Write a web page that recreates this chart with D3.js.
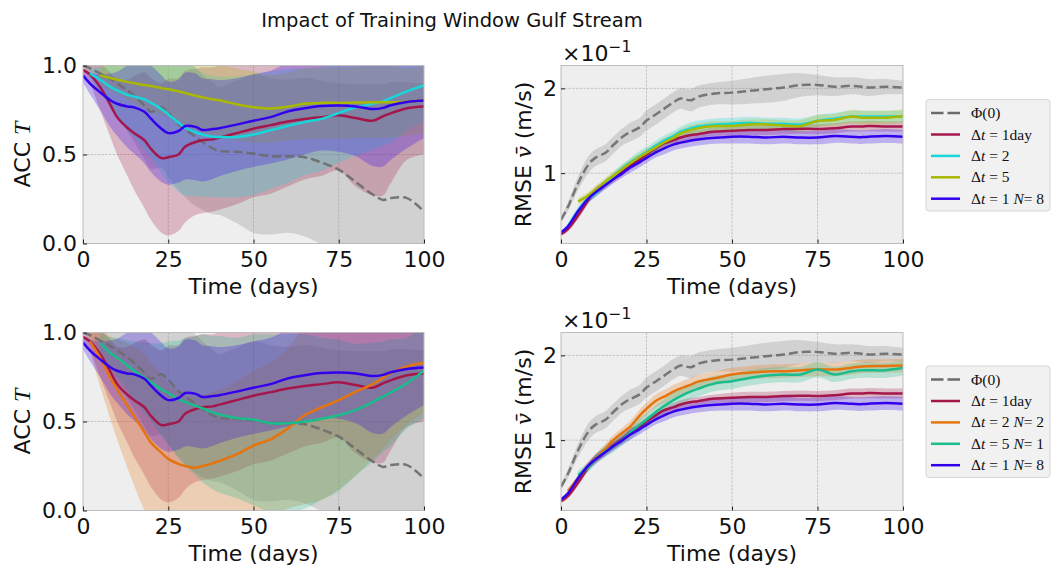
<!DOCTYPE html>
<html>
<head>
<meta charset="utf-8">
<script src="https://cdn.jsdelivr.net/npm/d3@7"></script>
<style>
  body { margin: 0; background: #ffffff; }
  svg { display: block; font-family: "DejaVu Sans", sans-serif; }
</style>
</head>
<body>
<svg id="chart" width="1051" height="569"></svg>
<script>
// ---------------- DATA ----------------
const days = [0,2,5,8,10,13,15,18,20,23,25,28,30,33,35,38,40,45,50,55,60,65,70,75,80,85,88,90,95,100];

// ACC T (means and standard deviations)
const accPhi    = [1.0,0.985,0.955,0.925,0.9,0.86,0.83,0.775,0.74,0.765,0.735,0.67,0.64,0.6,0.57,0.535,0.52,0.515,0.505,0.49,0.49,0.485,0.455,0.415,0.345,0.275,0.245,0.255,0.255,0.18];
const accPhiStd = [0,0.04,0.1,0.15,0.18,0.23,0.26,0.3,0.32,0.34,0.36,0.37,0.38,0.39,0.38,0.37,0.36,0.4,0.445,0.44,0.43,0.445,0.46,0.485,0.55,0.62,0.65,0.65,0.65,0.72];
const accDt1    = [0.975,0.95,0.88,0.78,0.71,0.65,0.62,0.58,0.53,0.48,0.485,0.5,0.545,0.57,0.58,0.585,0.595,0.62,0.645,0.665,0.685,0.7,0.71,0.72,0.705,0.69,0.715,0.73,0.76,0.77];
const accDt1Std = [0.025,0.05,0.13,0.18,0.21,0.27,0.32,0.38,0.4,0.42,0.44,0.43,0.425,0.41,0.41,0.405,0.405,0.4,0.385,0.385,0.365,0.34,0.33,0.31,0.385,0.42,0.445,0.4,0.29,0.27];
const accDt2    = [null,0.955,0.92,0.88,0.86,0.835,0.825,0.81,0.79,0.755,0.725,0.68,0.65,0.625,0.612,0.6,0.598,0.598,0.612,0.636,0.66,0.683,0.7,0.733,0.765,0.785,0.8,0.815,0.855,0.888];
const accDt2Std = [null,0.03,0.07,0.12,0.15,0.2,0.23,0.28,0.31,0.36,0.38,0.39,0.38,0.36,0.35,0.34,0.34,0.34,0.34,0.33,0.32,0.3,0.29,0.28,0.27,0.26,0.25,0.25,0.22,0.2];
const accDt5    = [null,null,0.944,0.93,0.92,0.908,0.9,0.89,0.885,0.873,0.867,0.855,0.845,0.83,0.822,0.81,0.805,0.782,0.766,0.758,0.768,0.785,0.79,0.79,0.792,0.794,0.794,0.794,0.796,0.807];
const accDt5Std = [null,null,0.05,0.07,0.08,0.1,0.11,0.13,0.14,0.15,0.16,0.17,0.18,0.19,0.2,0.2,0.2,0.2,0.2,0.19,0.19,0.2,0.2,0.2,0.2,0.2,0.2,0.2,0.19,0.19];
const accN8     = [0.944,0.9,0.85,0.805,0.785,0.77,0.765,0.74,0.7,0.645,0.62,0.632,0.66,0.655,0.638,0.643,0.648,0.668,0.69,0.71,0.742,0.76,0.772,0.775,0.77,0.755,0.762,0.775,0.795,0.803];
const accN8Std  = [0.04,0.06,0.1,0.15,0.18,0.23,0.26,0.29,0.3,0.3,0.29,0.29,0.3,0.3,0.29,0.28,0.27,0.26,0.26,0.26,0.27,0.26,0.25,0.26,0.28,0.32,0.33,0.31,0.26,0.21];
const accDt2N2    = [null,0.95,0.86,0.745,0.68,0.59,0.53,0.44,0.38,0.325,0.29,0.262,0.25,0.24,0.25,0.265,0.278,0.315,0.365,0.4,0.46,0.535,0.58,0.62,0.668,0.71,0.746,0.77,0.81,0.83];
const accDt2N2Std = [null,0.05,0.16,0.23,0.28,0.35,0.39,0.44,0.45,0.44,0.42,0.41,0.4,0.4,0.4,0.4,0.4,0.41,0.42,0.43,0.45,0.5,0.52,0.5,0.47,0.42,0.4,0.38,0.33,0.28];
const accDt5N1    = [null,null,0.94,0.885,0.86,0.815,0.785,0.745,0.72,0.68,0.66,0.625,0.61,0.588,0.575,0.55,0.54,0.52,0.51,0.49,0.49,0.5,0.516,0.535,0.565,0.61,0.64,0.66,0.715,0.785];
const accDt5N1Std = [null,null,0.06,0.09,0.11,0.14,0.165,0.2,0.22,0.26,0.29,0.33,0.36,0.39,0.415,0.43,0.44,0.45,0.48,0.5,0.5,0.49,0.455,0.425,0.37,0.335,0.31,0.3,0.255,0.265];

// RMSE v (in units of 1e-1 m/s)
const rmsePhi    = [0.45,0.6,0.88,1.1,1.18,1.24,1.32,1.43,1.48,1.54,1.62,1.7,1.755,1.84,1.88,1.86,1.9,1.94,1.95,1.97,1.99,2.01,2.04,2.04,2.02,2.03,2.02,2.01,2.02,2.01];
const rmsePhiStd = [0.03,0.05,0.08,0.1,0.1,0.1,0.1,0.1,0.11,0.11,0.12,0.12,0.12,0.12,0.12,0.13,0.13,0.13,0.14,0.15,0.16,0.16,0.14,0.12,0.11,0.1,0.1,0.1,0.09,0.08];
const rmseDt1    = [0.28,0.34,0.5,0.68,0.78,0.87,0.93,1.02,1.08,1.16,1.22,1.3,1.35,1.39,1.42,1.45,1.46,1.49,1.5,1.51,1.51,1.52,1.525,1.52,1.53,1.55,1.55,1.555,1.55,1.55];
const rmseDt1Std = [0.02,0.03,0.04,0.04,0.05,0.05,0.05,0.05,0.05,0.05,0.05,0.05,0.05,0.05,0.05,0.05,0.05,0.05,0.06,0.06,0.06,0.06,0.06,0.06,0.06,0.06,0.06,0.06,0.06,0.06];
const rmseDt2    = [null,0.37,0.56,0.7,0.76,0.88,0.95,1.06,1.12,1.2,1.25,1.33,1.38,1.44,1.49,1.53,1.55,1.575,1.583,1.595,1.583,1.583,1.575,1.615,1.643,1.667,1.667,1.667,1.667,1.667];
const rmseDt2Std = [null,0.03,0.04,0.05,0.05,0.05,0.05,0.05,0.05,0.06,0.06,0.06,0.06,0.06,0.06,0.07,0.07,0.07,0.07,0.07,0.07,0.07,0.07,0.07,0.07,0.07,0.07,0.07,0.07,0.07];
const rmseDt5    = [null,null,0.665,0.74,0.8,0.9,0.96,1.05,1.11,1.19,1.24,1.31,1.36,1.42,1.47,1.51,1.53,1.555,1.556,1.575,1.575,1.563,1.556,1.615,1.627,1.667,1.655,1.655,1.655,1.675];
const rmseDt5Std = [null,null,0.04,0.04,0.05,0.05,0.05,0.05,0.05,0.05,0.05,0.05,0.05,0.05,0.05,0.06,0.06,0.06,0.06,0.06,0.06,0.06,0.07,0.07,0.07,0.08,0.08,0.08,0.08,0.08];
const rmseN8     = [0.3,0.37,0.55,0.7,0.77,0.86,0.92,1.0,1.06,1.13,1.18,1.25,1.29,1.34,1.36,1.385,1.397,1.417,1.43,1.43,1.42,1.43,1.42,1.42,1.437,1.43,1.425,1.43,1.437,1.43];
const rmseN8Std  = [0.02,0.03,0.04,0.04,0.05,0.05,0.05,0.05,0.06,0.06,0.06,0.06,0.07,0.07,0.07,0.07,0.07,0.07,0.08,0.08,0.08,0.08,0.08,0.08,0.08,0.08,0.08,0.08,0.08,0.08];
const rmseDt2N2    = [null,0.4,0.55,0.7,0.78,0.9,0.99,1.09,1.15,1.29,1.37,1.47,1.51,1.575,1.61,1.655,1.69,1.73,1.775,1.795,1.81,1.813,1.825,1.835,1.833,1.855,1.87,1.873,1.875,1.88];
const rmseDt2N2Std = [null,0.03,0.04,0.05,0.05,0.06,0.06,0.06,0.07,0.07,0.07,0.08,0.08,0.08,0.08,0.08,0.08,0.08,0.08,0.08,0.08,0.08,0.08,0.08,0.08,0.08,0.08,0.08,0.08,0.08];
const rmseDt5N1    = [null,null,0.59,0.68,0.77,0.87,0.92,1.01,1.08,1.18,1.24,1.34,1.4,1.476,1.52,1.575,1.605,1.67,1.694,1.734,1.762,1.774,1.774,1.833,1.775,1.813,1.825,1.825,1.825,1.853];
const rmseDt5N1Std = [null,null,0.05,0.06,0.06,0.07,0.07,0.07,0.08,0.08,0.08,0.08,0.08,0.09,0.09,0.09,0.09,0.09,0.09,0.09,0.09,0.09,0.09,0.09,0.09,0.09,0.09,0.09,0.09,0.09];

const xTicks = [0, 25, 50, 75, 100];
const accTicks = [0, 0.5, 1.0];
const rmseTicks = [1, 2];

// legend labels: [text, italic?]
const lblPhi   = [["Φ(0)", false]];
const lblDt1   = [["Δ", false], ["t", true], [" = 1day", false]];
const lblDt2   = [["Δ", false], ["t", true], [" = 2", false]];
const lblDt5   = [["Δ", false], ["t", true], [" = 5", false]];
const lblN8    = [["Δ", false], ["t", true], [" = 1 ", false], ["N", true], ["= 8", false]];
const lblDt2N2 = [["Δ", false], ["t", true], [" = 2 ", false], ["N", true], ["= 2", false]];
const lblDt5N1 = [["Δ", false], ["t", true], [" = 5 ", false], ["N", true], ["= 1", false]];

// colors
const cPhi = "#6b6b6b", cDt1 = "#a5164b", cDt2 = "#18d5da", cDt5 = "#a9b800",
      cN8 = "#3300ee", cDt2N2 = "#e6740e", cDt5N1 = "#19bd8c";

// ---------------- DRAW ----------------
const svg = d3.select("#chart");

svg.append("text").attr("x", 452).attr("y", 26.5).attr("text-anchor", "middle")
  .style("font-size", "19.5px").attr("fill", "#111").text("Impact of Training Window Gulf Stream");

function S(label, color, dashed, mean, std) { return {label, color, dashed, mean, std}; }

const panels = [
  {x0: 83, x1: 424, y0: 65.5, y1: 243.5, kind: "acc",
   series: [S(lblPhi,cPhi,true,accPhi,accPhiStd), S(lblDt1,cDt1,false,accDt1,accDt1Std),
            S(lblDt2,cDt2,false,accDt2,accDt2Std), S(lblDt5,cDt5,false,accDt5,accDt5Std),
            S(lblN8,cN8,false,accN8,accN8Std)]},
  {x0: 561, x1: 903, y0: 65.5, y1: 243.5, kind: "rmse", legendY: 99.5,
   series: [S(lblPhi,cPhi,true,rmsePhi,rmsePhiStd), S(lblDt1,cDt1,false,rmseDt1,rmseDt1Std),
            S(lblDt2,cDt2,false,rmseDt2,rmseDt2Std), S(lblDt5,cDt5,false,rmseDt5,rmseDt5Std),
            S(lblN8,cN8,false,rmseN8,rmseN8Std)]},
  {x0: 83, x1: 424, y0: 332.5, y1: 510.5, kind: "acc",
   series: [S(lblPhi,cPhi,true,accPhi,accPhiStd), S(lblDt1,cDt1,false,accDt1,accDt1Std),
            S(lblDt2N2,cDt2N2,false,accDt2N2,accDt2N2Std), S(lblDt5N1,cDt5N1,false,accDt5N1,accDt5N1Std),
            S(lblN8,cN8,false,accN8,accN8Std)]},
  {x0: 561, x1: 903, y0: 332.5, y1: 510.5, kind: "rmse", legendY: 366,
   series: [S(lblPhi,cPhi,true,rmsePhi,rmsePhiStd), S(lblDt1,cDt1,false,rmseDt1,rmseDt1Std),
            S(lblDt2N2,cDt2N2,false,rmseDt2N2,rmseDt2N2Std), S(lblDt5N1,cDt5N1,false,rmseDt5N1,rmseDt5N1Std),
            S(lblN8,cN8,false,rmseN8,rmseN8Std)]},
];

panels.forEach((p, pi) => {
  const x = d3.scaleLinear().domain([0, 100]).range([p.x0, p.x1]);
  const y = p.kind === "acc"
    ? d3.scaleLinear().domain([0, 1]).range([p.y1, p.y0])
    : d3.scaleLinear().domain([0.17, 2.27]).range([p.y1, p.y0]);
  const yTicks = p.kind === "acc" ? accTicks : rmseTicks;
  const g = svg.append("g");
  const clipId = "clip" + pi;
  svg.append("clipPath").attr("id", clipId).append("rect")
    .attr("x", p.x0).attr("y", p.y0).attr("width", p.x1 - p.x0).attr("height", p.y1 - p.y0);

  g.append("rect").attr("x", p.x0).attr("y", p.y0).attr("width", p.x1 - p.x0)
    .attr("height", p.y1 - p.y0).attr("fill", "#eeeeee");

  // grid
  const grid = g.append("g").attr("stroke", "#b2b2b2").attr("stroke-width", 0.7).attr("stroke-dasharray", "2.5,1.2");
  xTicks.filter(t => t > 0 && t < 100).forEach(t => {
    grid.append("line").attr("x1", x(t)).attr("x2", x(t)).attr("y1", p.y0).attr("y2", p.y1);
  });
  yTicks.forEach(t => {
    const yy = y(t);
    if (yy > p.y0 + 1 && yy < p.y1 - 1)
      grid.append("line").attr("x1", p.x0).attr("x2", p.x1).attr("y1", yy).attr("y2", yy);
  });

  const plot = g.append("g").attr("clip-path", `url(#${clipId})`);
  const curve = d3.curveCatmullRom.alpha(0.5);

  // bands
  p.series.forEach(s => {
    const area = d3.area()
      .defined((d, i) => s.mean[i] != null)
      .x((d, i) => x(days[i]))
      .y0((d, i) => y(s.mean[i] - s.std[i]))
      .y1((d, i) => y(s.mean[i] + s.std[i]))
      .curve(curve);
    plot.append("path").attr("d", area(days))
      .attr("fill", s.dashed ? "#808080" : s.color).attr("fill-opacity", 0.26);
  });
  // lines
  p.series.forEach(s => {
    const line = d3.line()
      .defined((d, i) => s.mean[i] != null)
      .x((d, i) => x(days[i]))
      .y((d, i) => y(s.mean[i]))
      .curve(curve);
    plot.append("path").attr("d", line(days)).attr("fill", "none")
      .attr("stroke", s.color).attr("stroke-width", 2.5)
      .attr("stroke-dasharray", s.dashed ? "9,4" : null)
      .attr("stroke-opacity", s.dashed ? 0.9 : 1);
  });

  // frame
  g.append("rect").attr("x", p.x0).attr("y", p.y0).attr("width", p.x1 - p.x0)
    .attr("height", p.y1 - p.y0).attr("fill", "none").attr("stroke", "#bcbcbc").attr("stroke-width", 1);

  // axes
  const xa = g.append("g").attr("transform", `translate(0,${p.y1})`)
    .call(d3.axisBottom(x).tickValues(xTicks).tickFormat(d3.format("d")).tickSizeInner(-4).tickSizeOuter(0).tickPadding(8));
  const ya = g.append("g").attr("transform", `translate(${p.x0},0)`)
    .call(d3.axisLeft(y).tickValues(yTicks).tickFormat(p.kind === "acc" ? d3.format(".1f") : d3.format("d"))
      .tickSizeInner(-4).tickSizeOuter(0).tickPadding(p.kind === "acc" ? 6 : 4));
  [xa, ya].forEach(a => {
    a.select(".domain").remove();
    a.selectAll(".tick line").attr("stroke", "#222").attr("stroke-width", 1);
    a.selectAll(".tick text").attr("fill", "#111").style("font-size", "22px").style("font-family", "DejaVu Sans");
  });

  // x label
  g.append("text").attr("x", (p.x0 + p.x1) / 2).attr("y", p.y1 + 50).attr("text-anchor", "middle")
    .style("font-size", "22px").attr("fill", "#111").text("Time (days)");

  // y label
  const cy = (p.y0 + p.y1) / 2;
  if (p.kind === "acc") {
    const t = g.append("text").attr("transform", `translate(30,${cy}) rotate(-90)`).attr("text-anchor", "middle")
      .style("font-size", "22px").attr("fill", "#111");
    t.append("tspan").text("ACC ");
    t.append("tspan").style("font-family", "Liberation Serif").style("font-style", "italic").style("font-size", "24px").text("T");
  } else {
    const t = g.append("text").attr("transform", `translate(531,${cy}) rotate(-90)`).attr("text-anchor", "middle")
      .style("font-size", "22px").attr("fill", "#111");
    t.append("tspan").text("RMSE ");
    t.append("tspan").style("font-family", "DejaVu Serif").style("font-style", "italic").style("font-size", "21px").text("v\u0304");
    t.append("tspan").text(" (m/s)");
    // offset text
    const o = g.append("text").attr("x", 562).attr("y", p.y0 - 5).style("font-size", "22px").attr("fill", "#111");
    o.append("tspan").text("×10");
    o.append("tspan").attr("dy", -9).style("font-size", "15.5px").text("−1");

    // legend
    const lg = g.append("g");
    const ly = p.legendY;
    lg.append("rect").attr("x", 926).attr("y", ly).attr("width", 124).attr("height", 111.5)
      .attr("rx", 3).attr("fill", "#f1f1f1").attr("stroke", "#d6d6d6").attr("stroke-width", 1);
    p.series.forEach((s, i) => {
      const ry = ly + 13.6 + i * 21.4;
      lg.append("line").attr("x1", 931).attr("x2", 960).attr("y1", ry).attr("y2", ry)
        .attr("stroke", s.color).attr("stroke-width", 2.5)
        .attr("stroke-dasharray", s.dashed ? "12.5,4" : null);
      const tx = lg.append("text").attr("x", 971).attr("y", ry + 5)
        .style("font-family", "Liberation Serif").style("font-size", "15.5px").attr("fill", "#111");
      s.label.forEach(([txt, it]) => {
        tx.append("tspan").style("font-style", it ? "italic" : "normal").text(txt);
      });
    });
  }
});
</script>
</body>
</html>
